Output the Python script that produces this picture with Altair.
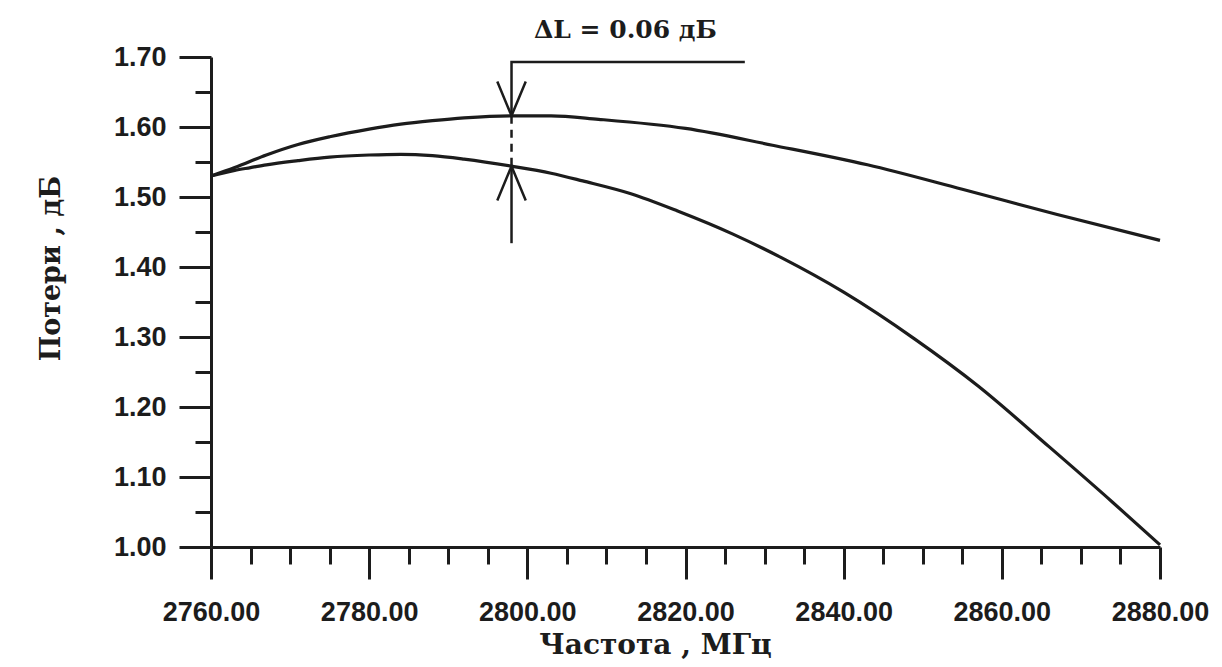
import altair as alt
import pandas as pd

# ---- data ----
upper_freq = [2760, 2763, 2767, 2771, 2775, 2780, 2784, 2788, 2792, 2798, 2803, 2809,
              2820, 2831, 2843, 2855, 2867, 2880]
upper_loss = [1.530, 1.542, 1.560, 1.575, 1.586, 1.597, 1.604, 1.609, 1.613, 1.616, 1.616, 1.611,
              1.598, 1.574, 1.546, 1.511, 1.475, 1.438]

lower_freq = [2760, 2763, 2765, 2767, 2771, 2775, 2780, 2784, 2788, 2792, 2798, 2803, 2807,
              2813, 2819, 2826, 2832, 2840, 2849, 2857, 2866, 2874, 2880]
lower_loss = [1.530, 1.538, 1.542, 1.546, 1.552, 1.557, 1.560, 1.561, 1.559, 1.554, 1.544, 1.534, 1.523,
              1.505, 1.480, 1.447, 1.414, 1.364, 1.297, 1.230, 1.143, 1.064, 1.003]

x_tick_values = [2760 + 5 * i for i in range(25)]
y_tick_values = [round(1.00 + 0.05 * i, 2) for i in range(15)]

# annotation (ΔL marker) in data units
ann_freq = 2798
ann_top = 1.693
ann_right = 2827.5
ann_up = 1.616
ann_low = 1.544
ann_bottom = 1.434
ann_text = "ΔL = 0.06 дБ"
ann_text_freq = 2812.4
ann_text_loss = 1.739
arrow_half = 1.8
arrow_len = 0.049

x_title = "Частота , МГц"
y_title = "Потери , дБ"

INK = "#1c1c1c"

curves = pd.DataFrame(
    {"f": upper_freq + lower_freq,
     "v": upper_loss + lower_loss,
     "s": ["upper"] * len(upper_freq) + ["lower"] * len(lower_freq),
     "o": list(range(len(upper_freq))) + list(range(len(lower_freq)))}
)

solid_segs = pd.DataFrame({
    "f": [ann_right, ann_freq, ann_freq,
          ann_freq, ann_freq,
          ann_freq - arrow_half, ann_freq, ann_freq + arrow_half,
          ann_freq - arrow_half, ann_freq, ann_freq + arrow_half],
    "v": [ann_top, ann_top, ann_up,
          ann_low, ann_bottom,
          ann_up + arrow_len, ann_up, ann_up + arrow_len,
          ann_low - arrow_len, ann_low, ann_low - arrow_len],
    "s": ["top", "top", "top", "bot", "bot", "ah1", "ah1", "ah1", "ah2", "ah2", "ah2"],
    "o": [0, 1, 2, 0, 1, 0, 1, 2, 0, 1, 2],
})
dash_seg = pd.DataFrame({"f": [ann_freq, ann_freq], "v": [ann_up, ann_low], "s": ["d", "d"], "o": [0, 1]})
text_df = pd.DataFrame({"f": [ann_text_freq], "v": [ann_text_loss], "t": [ann_text]})

x_axis = alt.Axis(
    values=x_tick_values,
    labelExpr="datum.value % 20 === 0 ? format(datum.value, '.2f') : ''",
    tickSize={"condition": {"test": "datum.value % 20 === 0", "value": 32}, "value": 17},
    tickWidth=3, tickColor=INK, domainWidth=3, domainColor=INK,
    labelFont="Liberation Sans", labelFontWeight="bold", labelFontSize=27, labelColor=INK,
    labelPadding=20, labelOverlap=False, labelFlush=False, grid=False,
    title=x_title, titleFont="DejaVu Serif", titleFontWeight="bold", titleFontSize=28,
    titleColor=INK, titleX=444, titleY=106, titleBaseline="alphabetic", titleAlign="center",
)
y_axis = alt.Axis(
    values=y_tick_values,
    labelExpr="abs(datum.value*10 - round(datum.value*10)) < 0.001 ? format(datum.value, '.2f') : ''",
    tickSize={"condition": {"test": "abs(datum.value*10 - round(datum.value*10)) < 0.001", "value": 32}, "value": 16},
    tickWidth=3, tickColor=INK, domainWidth=3, domainColor=INK,
    labelFont="Liberation Sans", labelFontWeight="bold", labelFontSize=27, labelColor=INK,
    labelPadding=13, labelOverlap=False, labelFlush=False, grid=False,
    title=y_title, titleFont="DejaVu Serif", titleFontWeight="bold", titleFontSize=27,
    titleColor=INK, titleX=-152, titleY=211, titleAngle=270, titleBaseline="alphabetic",
    titleAlign="center",
)

X = alt.X("f:Q", scale=alt.Scale(domain=[2760, 2880], nice=False, zero=False), axis=x_axis)
Y = alt.Y("v:Q", scale=alt.Scale(domain=[1.0, 1.7], nice=False, zero=False), axis=y_axis)

curve_layer = alt.Chart(curves).mark_line(
    color=INK, strokeWidth=3.2, interpolate="monotone"
).encode(x=X, y=Y, detail="s:N", order="o:Q")

solid_layer = alt.Chart(solid_segs).mark_line(color=INK, strokeWidth=2.5).encode(
    x=X, y=Y, detail="s:N", order="o:Q")

dash_layer = alt.Chart(dash_seg).mark_line(color=INK, strokeWidth=2.5, strokeDash=[8, 6]).encode(
    x=X, y=Y, detail="s:N", order="o:Q")

text_layer = alt.Chart(text_df).mark_text(
    font="DejaVu Serif", fontWeight="bold", fontSize=25, color=INK, align="center", baseline="middle"
).encode(x=X, y=Y, text="t:N")

chart = alt.layer(curve_layer, solid_layer, dash_layer, text_layer).properties(
    width=949, height=490,
    autosize=alt.AutoSizeParams(type="none"),
    padding={"left": 203, "top": 49, "right": 54, "bottom": 112},
    background="#ffffff",
).configure_view(stroke=None)

chart.save("out.html", embed_options={"renderer": "svg", "actions": False})
